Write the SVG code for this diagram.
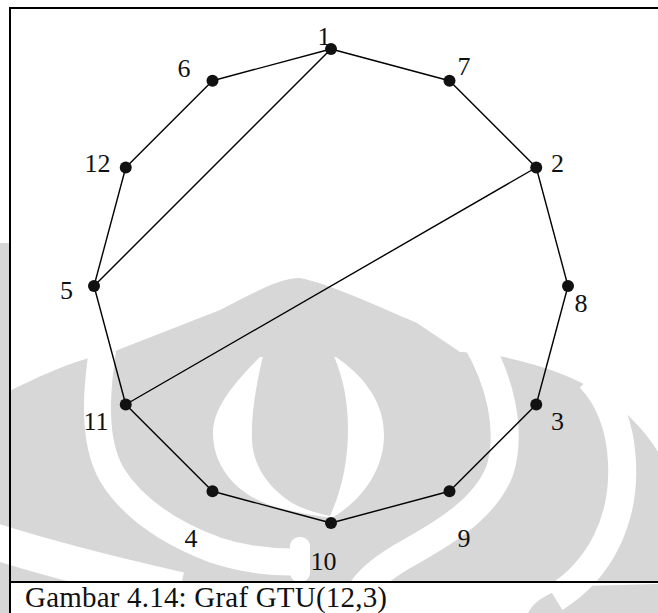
<svg xmlns="http://www.w3.org/2000/svg" width="658" height="613" viewBox="0 0 658 613">
<style>
.wm{fill:#d7d7d7}
.wmw{fill:#fff}
.band{fill:none;stroke:#fff;stroke-linecap:butt}
.frame{stroke:#000;stroke-width:2;fill:none}
.edge{stroke:#000;stroke-width:1.4}
.dot{fill:#111}
.lbl{font-family:"Liberation Serif","Times New Roman",serif;font-size:26px;fill:#111;text-anchor:middle}
.cap{font-family:"Liberation Serif","Times New Roman",serif;font-size:29px;fill:#111}
</style>
<rect width="658" height="613" fill="#fff"/>
<g id="watermark">
<path class="wm" d="M0,396 C40,375 80,358 110,353 L220,310 C255,292 280,278 300,278 C330,284 375,305 417,323 L460,352 L483,353 C530,361 570,374 600,393 C625,410 645,430 658,452 L658,582 L0,582 Z"/>
<rect class="wm" x="0" y="243" width="9" height="370"/>
<path class="wm" d="M528,613 C535,600 550,590 580,586 L658,584 L658,613 Z"/>
<path class="band" stroke-width="36" d="M-10,540 C40,556 100,572 180,590"/>
<path class="band" stroke-width="28" d="M555,598 C600,570 625,520 622,462 C620,420 606,395 590,378"/>
<path class="band" stroke-width="27" d="M104,340 C96,390 92,440 112,475 C135,512 175,535 215,550 C245,560 270,562 292,562"/>
<path class="band" stroke-width="28" d="M476,340 C500,380 512,430 500,470 C485,510 440,535 410,552 C390,563 372,575 362,590"/>
<rect class="wmw" x="290" y="537" width="20" height="45" rx="9"/>
<path class="wmw" d="M260,357 C232,385 212,410 213,435 C214,470 240,495 270,505 C295,513 318,516 332,518 C362,500 384,470 384,435 C384,400 362,375 336,357 Z"/>
<path class="wm" d="M263,356 C256,385 251,415 252,440 C253,470 275,495 300,507 C315,513 325,515 330,516 C342,490 348,460 348,430 C348,400 343,378 334,356 Z"/>
</g>
<g id="frame">
<line class="frame" x1="10" y1="7" x2="10" y2="613"/>
<line class="frame" x1="9" y1="8" x2="658" y2="8"/>
<line class="frame" x1="9" y1="582" x2="658" y2="582"/>
</g>
<g id="connectors">
<line class="edge" x1="331" y1="49" x2="449.5" y2="80.75"/>
<line class="edge" x1="449.5" y1="80.75" x2="536.25" y2="167.5"/>
<line class="edge" x1="536.25" y1="167.5" x2="568" y2="286"/>
<line class="edge" x1="568" y1="286" x2="536.25" y2="404.5"/>
<line class="edge" x1="536.25" y1="404.5" x2="449.5" y2="491.25"/>
<line class="edge" x1="449.5" y1="491.25" x2="331" y2="523"/>
<line class="edge" x1="331" y1="523" x2="212.5" y2="491.25"/>
<line class="edge" x1="212.5" y1="491.25" x2="125.75" y2="404.5"/>
<line class="edge" x1="125.75" y1="404.5" x2="94" y2="286"/>
<line class="edge" x1="94" y1="286" x2="125.75" y2="167.5"/>
<line class="edge" x1="125.75" y1="167.5" x2="212.5" y2="80.75"/>
<line class="edge" x1="212.5" y1="80.75" x2="331" y2="49"/>
<line class="edge" x1="331" y1="49" x2="94" y2="286"/>
<line class="edge" x1="536.25" y1="167.5" x2="125.75" y2="404.5"/>
</g>
<g id="node1"><circle class="dot" cx="331" cy="49" r="6"/><text class="lbl" x="324" y="45">1</text></g>
<g id="node7"><circle class="dot" cx="449.5" cy="80.75" r="6"/><text class="lbl" x="464" y="75">7</text></g>
<g id="node2"><circle class="dot" cx="536.25" cy="167.5" r="6"/><text class="lbl" x="557.5" y="172">2</text></g>
<g id="node8"><circle class="dot" cx="568" cy="286" r="6"/><text class="lbl" x="581" y="312">8</text></g>
<g id="node3"><circle class="dot" cx="536.25" cy="404.5" r="6"/><text class="lbl" x="557.5" y="430">3</text></g>
<g id="node9"><circle class="dot" cx="449.5" cy="491.25" r="6"/><text class="lbl" x="464" y="547">9</text></g>
<g id="node10"><circle class="dot" cx="331" cy="523" r="6"/><text class="lbl" x="323.5" y="570">10</text></g>
<g id="node4"><circle class="dot" cx="212.5" cy="491.25" r="6"/><text class="lbl" x="191" y="547">4</text></g>
<g id="node11"><circle class="dot" cx="125.75" cy="404.5" r="6"/><text class="lbl" x="96" y="430">11</text></g>
<g id="node5"><circle class="dot" cx="94" cy="286" r="6"/><text class="lbl" x="66.5" y="299">5</text></g>
<g id="node12"><circle class="dot" cx="125.75" cy="167.5" r="6"/><text class="lbl" x="97.5" y="172">12</text></g>
<g id="node6"><circle class="dot" cx="212.5" cy="80.75" r="6"/><text class="lbl" x="184" y="77">6</text></g>
<text class="cap" x="25" y="606.5" textLength="362" lengthAdjust="spacing">Gambar 4.14: Graf GTU(12,3)</text>
</svg>
